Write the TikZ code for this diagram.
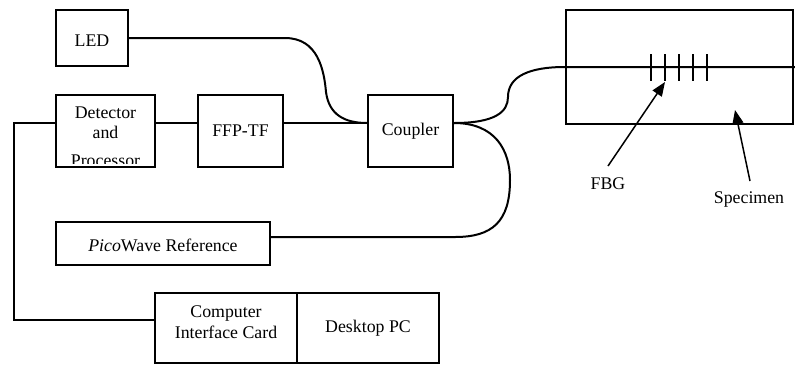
\documentclass[tikz,border=0pt]{standalone}
\usepackage{fontspec}
\setmainfont{Liberation Serif}
\usetikzlibrary{arrows.meta,calc}
\begin{document}
\begin{tikzpicture}[x=1pt,y=-1pt,line width=2pt,
  box/.style={draw,rectangle,inner sep=0pt},
  txt/.style={font=\fontsize{17.8}{20.5}\selectfont,align=center,inner sep=0pt},
  fibre/.style={line width=2pt},
  pointer/.style={line width=1.5pt,-{Triangle[length=14pt,width=11pt]}}]
\useasboundingbox (0,0) rectangle (795,365);

% instrument blocks
\node[box,minimum width=72pt,minimum height=56pt] (led) at (92,38) {};
\node[txt] at (92,41) {LED};
\node[box,minimum width=99pt,minimum height=72pt] (det) at (105.5,130.5) {};
\begin{scope}
  \clip (57,96) rectangle (154,163);
  \node[txt,anchor=base] (detA) at (105.5,118.5) {Detector};
  \node[txt,anchor=base] (detB) at (105.5,138.5) {and};
  \node[txt,anchor=base] (detC) at (105.5,166.5) {Processor};
\end{scope}
\node[box,minimum width=85pt,minimum height=72pt] (ffp) at (240.5,130.5) {};
\node[txt] at (240.5,131) {FFP-TF};
\node[box,minimum width=85pt,minimum height=72pt] (cpl) at (410.5,130.5) {};
\node[txt] at (410.5,131) {Coupler};
\node[box,minimum width=214pt,minimum height=43pt] (pico) at (163,243.5) {};
\node[txt] at (163,245) {\textit{Pico}Wave Reference};
\node[box,minimum width=142pt,minimum height=70pt] (card) at (226,328) {};
\node[txt] at (226,322) {Computer\\Interface Card};
\node[box,minimum width=142pt,minimum height=70pt] (pc) at (368,328) {};
\node[txt] at (368,328) {Desktop PC};

% specimen with the grating
\node[box,minimum width=227pt,minimum height=114pt] (spec) at (679.5,67) {};
\coordinate (fend) at (795,67);
\coordinate (cplout) at ([yshift=7.5pt]cpl.east);
\coordinate (cplin) at ([yshift=7.5pt]cpl.west);

% fibre runs
\draw[fibre] (led.east |- 0,38) -- (285,38)
  .. controls (318,38) and (324,70) .. (326,92)
  .. controls (329,115) and (345,123) .. (cplin);
\draw[fibre] ([yshift=7.5pt]det.east) -- ([yshift=7.5pt]ffp.west);
\draw[fibre] ([yshift=7.5pt]ffp.east) -- (cplin);
\draw[fibre] (cplout) .. controls (495,123) and (508,112) .. (508,97)
  .. controls (508,76) and (530,67) .. (spec.west) -- (fend);
\draw[fibre] (cplout) .. controls (495,123) and (510,150) .. (510,180)
  .. controls (510,222) and (492,237) .. (455,237) -- ([yshift=6.5pt]pico.east);
\draw[fibre] ([yshift=7.5pt]det.west) -- (14,123) -- (14,320) -- ([yshift=8pt]card.west);

% grating lines
\foreach \gx in {651,665,679,693,707}
  \draw[line width=2pt] (\gx,54) -- (\gx,81);

% labels with pointers
\node[txt] (fbg) at (608,183.5) {FBG};
\node[txt] (spl) at (749,199) {Specimen};
\coordinate (fbgtip) at (665,82);
\coordinate (spectip) at (735,110);
\draw[pointer] (608,166) -- (fbgtip);
\draw[pointer] (750,181) -- (spectip);
\end{tikzpicture}
\end{document}
